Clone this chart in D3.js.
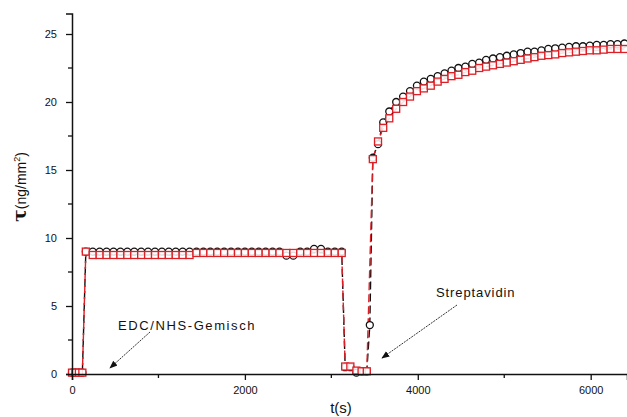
<!DOCTYPE html>
<html>
<head>
<meta charset="utf-8">
<script src="https://cdn.jsdelivr.net/npm/d3@7"></script>
<style>
  body { margin: 0; background: #fff; }
  svg { display: block; }
  text { font-family: "Liberation Sans", Arial, sans-serif; fill: #111; }
</style>
</head>
<body>
<div id="chart"></div>
<script>
// measurement times (s)
var times = [
  0, 40, 80, 120,
  160, 240, 320, 400, 480, 560, 640, 720, 800, 880, 960, 1040, 1120, 1200, 1280, 1360,
  1440, 1520, 1600, 1680, 1760, 1840, 1920, 2000, 2080, 2160, 2240, 2320, 2400, 2480,
  2560, 2640, 2720, 2800, 2880, 2960, 3040, 3120,
  3160, 3220, 3290, 3350, 3410, 3445,
  3480, 3540, 3600, 3670, 3750, 3830, 3910, 3990, 4070, 4150, 4230, 4310, 4390, 4470,
  4550, 4630, 4710, 4790, 4870, 4950, 5030, 5110, 5190, 5270, 5350, 5430, 5510, 5590,
  5670, 5750, 5830, 5910, 5990, 6070, 6150, 6230, 6310, 6390
];

// black circles
var seriesBlack = [
  0.1, 0.1, 0.1, 0.1,
  9.0, 9.0, 9.0, 9.0, 9.0, 9.0, 9.0, 9.0, 9.0, 9.0, 9.0, 9.0, 9.0, 9.0, 9.0, 9.0,
  9.0, 9.0, 9.0, 9.0, 9.0, 9.0, 9.0, 9.0, 9.0, 9.0, 9.0, 9.0, 9.0, 8.7,
  8.7, 9.0, 9.0, 9.2, 9.2, 9.0, 9.0, 9.0,
  0.5, 0.5, 0.1, 0.2, 0.2, 3.6,
  15.9, 16.9, 18.5, 19.3, 20.0, 20.4, 20.8, 21.2, 21.5, 21.7, 21.9, 22.1, 22.3, 22.5,
  22.6, 22.8, 22.9, 23.1, 23.2, 23.3, 23.4, 23.5, 23.6, 23.7, 23.7, 23.8, 23.9, 23.95,
  24.0, 24.05, 24.1, 24.1, 24.15, 24.2, 24.2, 24.25, 24.25, 24.3
];

// red squares (null = no point)
var seriesRed = [
  0.1, 0.1, 0.1, 0.1,
  9.0, 8.75, 8.75, 8.75, 8.75, 8.75, 8.75, 8.75, 8.75, 8.75, 8.75, 8.75, 8.75, 8.75, 8.75, 8.75,
  8.9, 8.9, 8.9, 8.9, 8.9, 8.9, 8.9, 8.9, 8.9, 8.9, 8.9, 8.9, 8.9, 8.9,
  8.9, 8.9, 8.9, 8.9, 8.9, 8.9, 8.9, 8.9,
  0.55, 0.55, 0.25, 0.2, 0.2, null,
  15.8, 17.1, 18.1, 18.8, 19.5, 20.0, 20.4, 20.8, 21.0, 21.2, 21.5, 21.7, 21.9, 22.0,
  22.2, 22.3, 22.5, 22.6, 22.7, 22.8, 22.9, 23.0, 23.1, 23.2, 23.3, 23.4, 23.45, 23.5,
  23.6, 23.65, 23.7, 23.75, 23.8, 23.8, 23.85, 23.9, 23.9, 23.9
];

var xTicks = [0, 2000, 4000, 6000];
var xMinor = [1000, 3000, 5000];
var yTicks = [0, 5, 10, 15, 20, 25];
var yMinor = [2.5, 7.5, 12.5, 17.5, 22.5];

var svgWidth = 627;
var svgHeight = 417;

var svg = d3.select("#chart")
  .append("svg")
  .attr("width", svgWidth)
  .attr("height", svgHeight);

// Scales
var x = d3.scaleLinear().domain([0, 6420]).range([72, 627]);
var y = d3.scaleLinear().domain([0, 26.5]).range([374, 13.6]);

// Build point lists
var blackPts = times.map((t, i) => ({t: t, v: seriesBlack[i]}));
var redPts = times.map((t, i) => ({t: t, v: seriesRed[i]})).filter(d => d.v !== null);

var line = d3.line().x(d => x(d.t)).y(d => y(d.v));

// Dashed connecting lines
svg.append("path")
  .datum(blackPts)
  .attr("d", line)
  .attr("fill", "none")
  .attr("stroke", "#111")
  .attr("stroke-width", 1.4)
  .attr("stroke-dasharray", "8,4");

svg.append("path")
  .datum(redPts)
  .attr("d", line)
  .attr("fill", "none")
  .attr("stroke", "#dd1f26")
  .attr("stroke-width", 1.4)
  .attr("stroke-dasharray", "8,4")
  .attr("stroke-dashoffset", 6);

// Circles
svg.append("g").selectAll("circle")
  .data(blackPts)
  .enter()
  .append("circle")
  .attr("cx", d => x(d.t))
  .attr("cy", d => y(d.v))
  .attr("r", 3.5)
  .attr("fill", "#fff")
  .attr("stroke", "#111")
  .attr("stroke-width", 1.3);

// Squares
svg.append("g").selectAll("rect")
  .data(redPts)
  .enter()
  .append("rect")
  .attr("x", d => x(d.t) - 3.5)
  .attr("y", d => y(d.v) - 3.5)
  .attr("width", 7)
  .attr("height", 7)
  .attr("fill", "#fff")
  .attr("fill-opacity", 0.85)
  .attr("stroke", "#dd1f26")
  .attr("stroke-width", 1.3);

// Axes
var xAxis = svg.append("g")
  .attr("transform", "translate(0,374)")
  .call(d3.axisBottom(x).tickValues(xTicks).tickSize(6).tickPadding(6).tickFormat(d3.format("d")));
xAxis.append("g").selectAll("line")
  .data(xMinor).enter().append("line")
  .attr("x1", d => x(d)).attr("x2", d => x(d))
  .attr("y1", 0).attr("y2", 4)
  .attr("stroke", "#111").attr("stroke-width", 1.3);

var yAxis = svg.append("g")
  .attr("transform", "translate(72,0)")
  .call(d3.axisLeft(y).tickValues(yTicks).tickSize(6).tickPadding(9));
yAxis.append("g").selectAll("line")
  .data(yMinor).enter().append("line")
  .attr("y1", d => y(d)).attr("y2", d => y(d))
  .attr("x1", 0).attr("x2", -4)
  .attr("stroke", "#111").attr("stroke-width", 1.3);

svg.selectAll(".domain").attr("stroke", "#111").attr("stroke-width", 1.5);
svg.selectAll(".tick line").attr("stroke", "#111").attr("stroke-width", 1.3);
svg.selectAll(".tick text")
  .style("font-size", "11px")
  .style("font-family", "'Liberation Sans', Arial, sans-serif")
  .attr("fill", "#111");

// Axis labels
svg.append("text")
  .attr("x", 341)
  .attr("y", 413)
  .attr("text-anchor", "middle")
  .style("font-size", "15px")
  .text("t(s)");

var yl = svg.append("text")
  .attr("transform", "translate(26,222) rotate(-90)")
  .attr("text-anchor", "start");
yl.append("tspan")
  .style("font-size", "19px")
  .style("font-weight", "bold")
  .style("font-family", "'DejaVu Serif', serif")
  .text("τ");
yl.append("tspan")
  .style("font-size", "14px")
  .text("(ng/mm");
yl.append("tspan")
  .style("font-size", "9px")
  .attr("dy", -6)
  .text("2");
yl.append("tspan")
  .style("font-size", "14px")
  .attr("dy", 6)
  .text(")");

// Annotations
svg.append("defs").append("marker")
  .attr("id", "arrow")
  .attr("viewBox", "0 0 10 10")
  .attr("refX", 9).attr("refY", 5)
  .attr("markerWidth", 8).attr("markerHeight", 8)
  .attr("orient", "auto")
  .append("path")
  .attr("d", "M0,1 L10,5 L0,9 Z")
  .attr("fill", "#111");

svg.append("line")
  .attr("x1", 150).attr("y1", 332)
  .attr("x2", 110).attr("y2", 368)
  .attr("stroke", "#333").attr("stroke-width", 1)
  .attr("stroke-dasharray", "2,1")
  .attr("marker-end", "url(#arrow)");

svg.append("line")
  .attr("x1", 457).attr("y1", 305)
  .attr("x2", 382).attr("y2", 358)
  .attr("stroke", "#333").attr("stroke-width", 1)
  .attr("stroke-dasharray", "2,1")
  .attr("marker-end", "url(#arrow)");

svg.append("text")
  .attr("x", 118).attr("y", 330)
  .style("font-size", "13px")
  .style("letter-spacing", "1.6px")
  .text("EDC/NHS-Gemisch");

svg.append("text")
  .attr("x", 436).attr("y", 297)
  .style("font-size", "13px")
  .style("letter-spacing", "0.9px")
  .text("Streptavidin");
</script>
</body>
</html>
